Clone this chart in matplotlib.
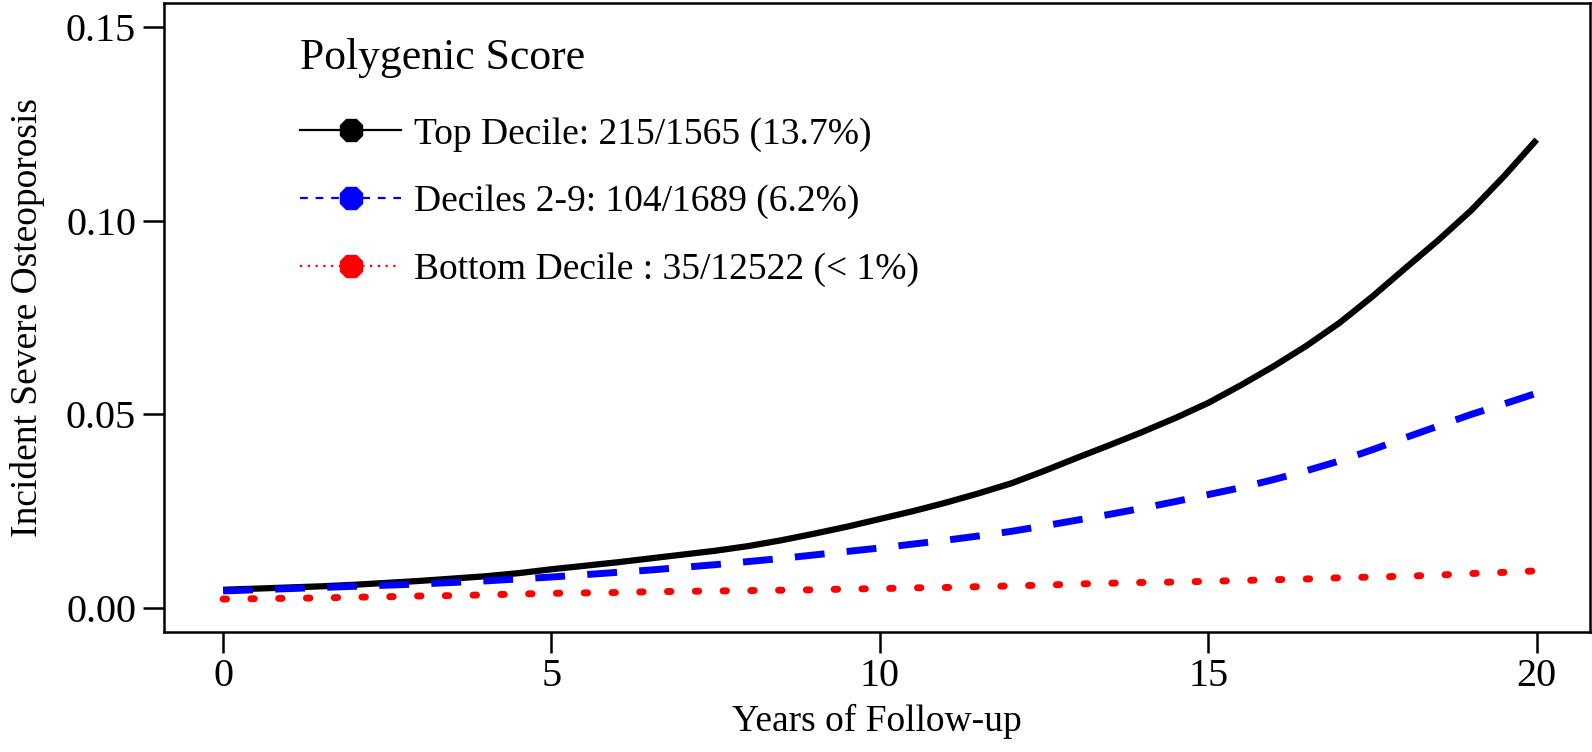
import matplotlib
matplotlib.use("Agg")
import matplotlib.pyplot as plt
from matplotlib.lines import Line2D

plt.rcParams["font.family"] = ["Liberation Serif", "DejaVu Serif"]

# ── data (every half year) ───────────────────────────────────────────────────
years = [0, 0.5, 1, 1.5, 2, 2.5, 3, 3.5, 4, 4.5, 5, 5.5, 6, 6.5, 7, 7.5,
         8, 8.5, 9, 9.5, 10, 10.5, 11, 11.5, 12, 12.5, 13, 13.5, 14, 14.5,
         15, 15.5, 16, 16.5, 17, 17.5, 18, 18.5, 19, 19.5, 20]
top_decile = [0.0047, 0.0050, 0.0053, 0.0056, 0.0060, 0.0065, 0.0070, 0.0076,
              0.0082, 0.0090, 0.0100, 0.0109, 0.0118, 0.0128, 0.0138, 0.0148,
              0.0160, 0.0175, 0.0192, 0.0210, 0.0230, 0.0250, 0.0272, 0.0296,
              0.0322, 0.0354, 0.0388, 0.0421, 0.0455, 0.0491, 0.0530, 0.0576,
              0.0625, 0.0678, 0.0737, 0.0805, 0.0878, 0.0950, 0.1027, 0.1115,
              0.1210]
deciles_2_9 = [0.0044, 0.0047, 0.0050, 0.0053, 0.0056, 0.0059, 0.0062, 0.0066,
               0.0070, 0.0075, 0.0080, 0.0086, 0.0092, 0.0098, 0.0105, 0.0112,
               0.0120, 0.0128, 0.0137, 0.0146, 0.0155, 0.0165, 0.0175, 0.0186,
               0.0198, 0.0212, 0.0227, 0.0242, 0.0258, 0.0275, 0.0293, 0.0311,
               0.0332, 0.0355, 0.0380, 0.0409, 0.0440, 0.0470, 0.0500, 0.0527,
               0.0555]
bottom_decile = [0.0023, 0.0024, 0.0025, 0.0026, 0.0028, 0.0029, 0.0031, 0.0032,
                 0.0034, 0.0036, 0.0038, 0.0039, 0.0040, 0.0042, 0.0043, 0.0044,
                 0.0045, 0.0046, 0.0047, 0.0049, 0.0050, 0.0052, 0.0053, 0.0055,
                 0.0057, 0.0059, 0.0062, 0.0064, 0.0066, 0.0067, 0.0069, 0.0071,
                 0.0073, 0.0075, 0.0078, 0.0080, 0.0082, 0.0085, 0.0089, 0.0092,
                 0.0096]

labels = ["Top Decile: 215/1565 (13.7%)",
          "Deciles 2-9: 104/1689 (6.2%)",
          "Bottom Decile : 35/12522 (< 1%)"]
x_ticks = [0, 5, 10, 15, 20]
y_ticks = [0.00, 0.05, 0.10, 0.15]

FS = 27

fig = plt.figure(figsize=(15.92, 7.52), dpi=100)
ax = fig.add_axes([0.103, 0.1596, 0.8957, 0.8364])

ax.plot(years, top_decile, color="black", linewidth=4.5, solid_capstyle="butt")
ax.plot(years, deciles_2_9, color="#0000FF", linewidth=5,
        dashes=(4.3, 3.2), dash_capstyle="butt")
ax.plot(years, bottom_decile, color="#FF0000", linewidth=5,
        dashes=(0.5, 3.5), dash_capstyle="round")

ax.set_xlim(-0.9, 20.81)
ax.set_ylim(-0.0062, 0.1563)
ax.set_xticks(x_ticks)
ax.set_xticklabels([str(t) for t in x_ticks])
ax.set_yticks(y_ticks)
ax.set_yticklabels([f"{t:.2f}" for t in y_ticks])
ax.tick_params(direction="out", length=15, width=1.8, labelsize=29)
ax.tick_params(axis="x", pad=4)
ax.tick_params(axis="y", pad=5)
for s in ax.spines.values():
    s.set_linewidth(1.8)

ax.set_xlabel("Years of Follow-up", fontsize=FS, labelpad=6)
ax.set_ylabel("Incident Severe Osteoporosis", fontsize=FS, labelpad=15)

handles = [
    Line2D([], [], color="black", linewidth=1.6, marker="8", markersize=17),
    Line2D([], [], color="#0000FF", linewidth=1.6, dashes=(3.5, 3.5),
           marker="8", markersize=17),
    Line2D([], [], color="#FF0000", linewidth=1.6, dashes=(1, 2.5),
           marker="8", markersize=17),
]
leg = ax.legend(handles, labels, title="Polygenic Score", loc="upper left",
                bbox_to_anchor=(0.081, 0.977), frameon=False, fontsize=FS,
                title_fontsize=31.5, handlelength=2.7, handletextpad=0.35,
                labelspacing=0.88, borderpad=0.55, borderaxespad=0,
                alignment="left")
# a bit more room between the title and the entries
leg._legend_box.sep = 28

fig.savefig("out.png", dpi=100)
